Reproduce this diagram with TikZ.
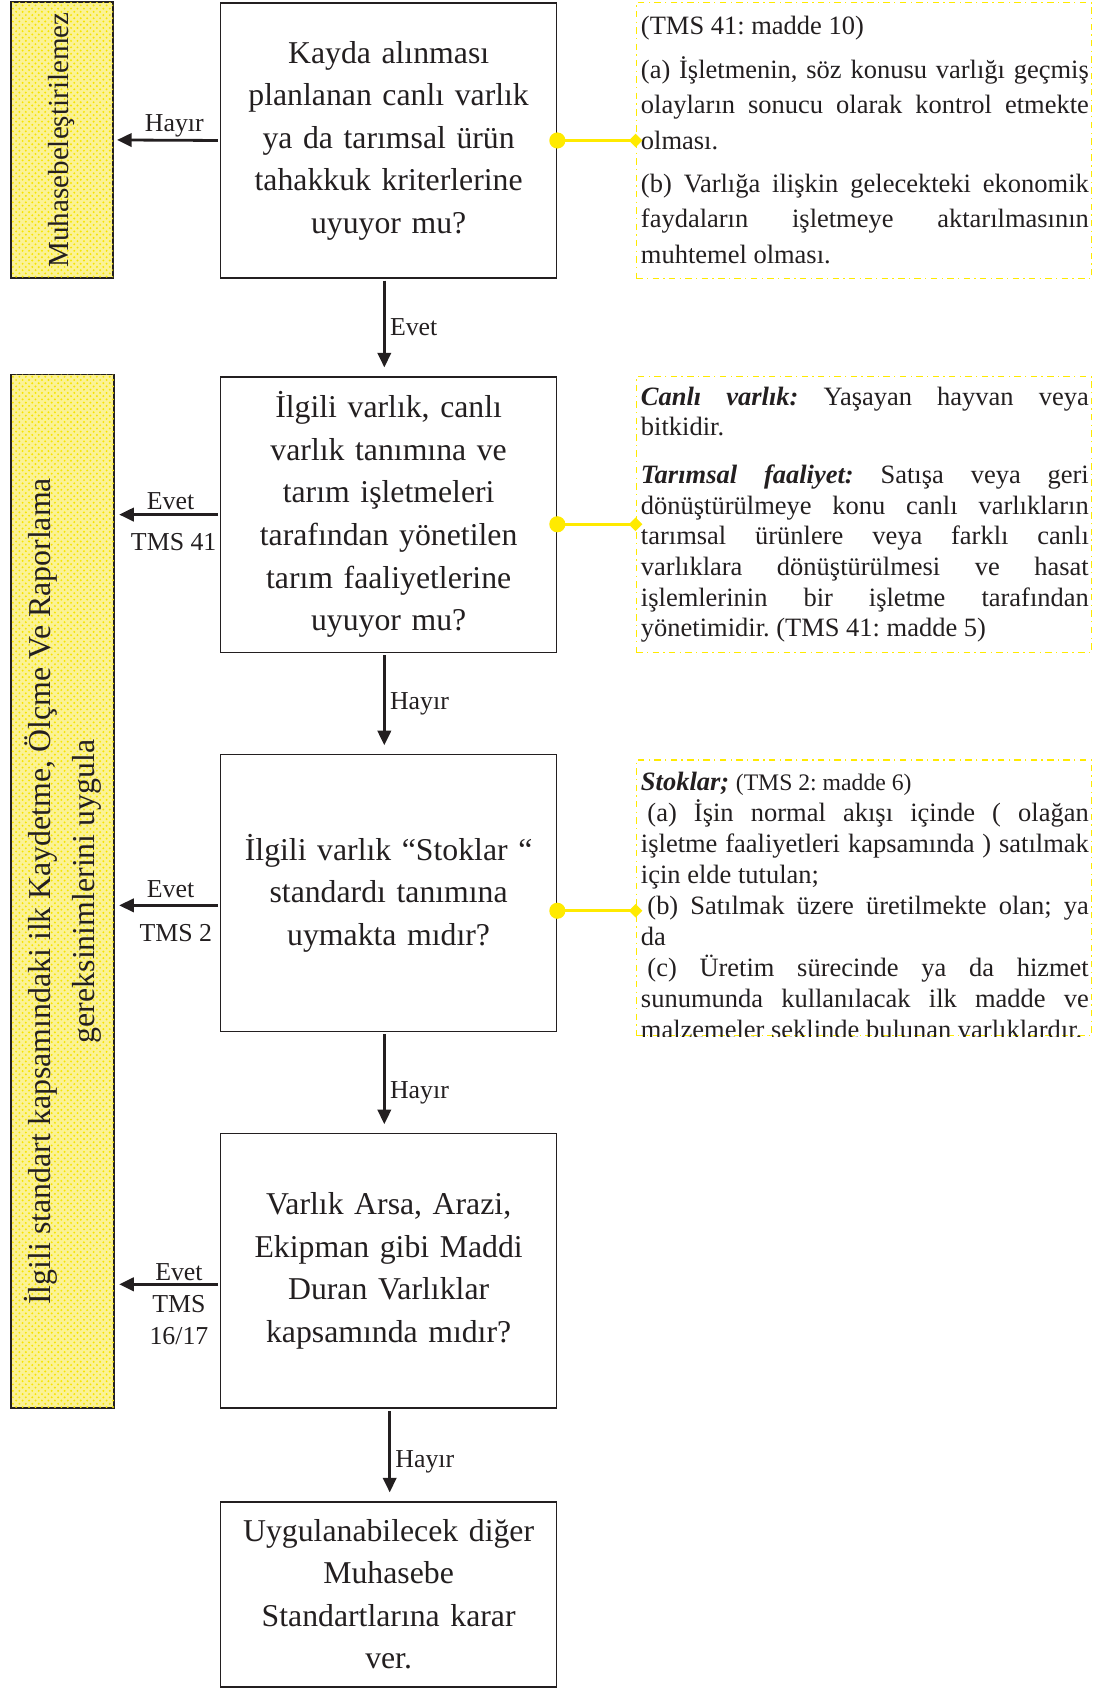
\documentclass[tikz,border=0pt]{standalone}
\usepackage{fontspec}
\setmainfont{Liberation Serif}
\usetikzlibrary{arrows.meta,shapes.geometric,patterns}

\begin{document}
\begin{tikzpicture}[x=0.5pt,y=-0.5pt,
    qbox/.style={draw=ink, line width=0.7pt, minimum width=156pt, text width=150pt, align=center,
      inner sep=0pt, text=ink, font=\fontsize{14.75}{19.75}\selectfont},
    sidebar/.style={draw=ink, line width=0.7pt, fill=paleyellow,
      postaction={pattern=crosshatch dots, pattern color=dotyellow}},
    sidetext/.style={rotate=90, align=center, text=ink, inner sep=0pt},
    flowdown/.style={draw=ink, line width=1.3pt, -{Triangle[length=6.8pt,width=6.2pt]},
      shorten <=1pt, shorten >=4pt},
    flowback/.style={flowdown, shorten >=1.5pt},
    lbl/.style={text=ink, inner sep=2pt, align=center, font=\fontsize{12}{14.5}\selectfont},
    note/.style={draw=hookyellow, line width=0.6pt, dash dot, minimum width=211.5pt,
      minimum height=128pt, inner sep=0pt},
    notetext/.style={anchor=north west, text width=208pt, align=justify, inner sep=0pt, text=ink},
    hook/.style={draw=hookyellow, line width=1.4pt},
    hookend/.style={diamond, fill=hookyellow, inner sep=0pt, minimum size=6.5pt}
  ]
  \definecolor{ink}{RGB}{35,31,32}
  \definecolor{hookyellow}{RGB}{255,234,0}
  \definecolor{paleyellow}{RGB}{251,242,150}
  \definecolor{dotyellow}{RGB}{246,228,0}

  \useasboundingbox (0,0) rectangle (1024,1568);

  % yellow side bars
  \node[sidebar, minimum width=47.5pt, minimum height=128pt] (lb1) at (57.5,130) {};
  \node[sidetext, font=\fontsize{13.5}{16}\selectfont] (lb1txt) at (lb1.center) {Muhasebeleştirilemez};
  \node[sidebar, minimum width=48pt, minimum height=480pt] (lb2) at (58,828) {};
  \node[sidetext, font=\fontsize{14.8}{20.5}\selectfont] (lb2txt) at (lb2.center)
    {İlgili standart kapsamındaki ilk Kaydetme, Ölçme Ve Raporlama\\gereksinimlerini uygula};

  % question boxes
  \node[qbox, minimum height=127.5pt] (b1) at (361,130.5)
    {Kayda alınması\\planlanan canlı varlık\\ya da tarımsal ürün\\tahakkuk kriterlerine\\uyuyor mu?};
  \node[qbox, minimum height=128pt] (b2) at (361,478)
    {İlgili varlık, canlı\\varlık tanımına ve\\tarım işletmeleri\\tarafından yönetilen\\tarım faaliyetlerine\\uyuyor mu?};
  \node[qbox, minimum height=128.5pt] (b3) at (361,829.5)
    {İlgili varlık “Stoklar “\\standardı tanımına\\uymakta mıdır?};
  \node[qbox, minimum height=127.5pt] (b4) at (361,1180.5)
    {Varlık Arsa, Arazi,\\Ekipman gibi Maddi\\Duran Varlıklar\\kapsamında mıdır?};
  \node[qbox, minimum height=86pt] (b5) at (361,1481)
    {Uygulanabilecek diğer\\Muhasebe\\Standartlarına karar\\ver.};

  % flow down
  \draw[flowdown] ([xshift=-2pt]b1.south) -- ([xshift=-2pt]b2.north) node[lbl, midway, right] (y1) {Evet};
  \draw[flowdown] ([xshift=-2pt]b2.south) -- ([xshift=-2pt]b3.north) node[lbl, midway, right] (y2) {Hayır};
  \draw[flowdown] ([xshift=-2pt]b3.south) -- ([xshift=-2pt]b4.north) node[lbl, pos=0.6, right] (y3) {Hayır};
  \draw[flowdown] ([xshift=0.5pt]b4.south) -- ([xshift=0.5pt]b5.north) node[lbl, pos=0.58, right] (y4) {Hayır};

  % back to the side bars
  \draw[flowback] (b1.west) -- (lb1.east) node[lbl, pos=0.43, above=-1pt] (x1) {Hayır};
  \draw[flowback, shorten >=2pt] (b2.west) -- (b2.west -| lb2.east)
    node[lbl, pos=0.47, above=-0.5pt] (x2a) {Evet} node[lbl, pos=0.44, below=6pt] (x2b) {TMS 41};
  \draw[flowback, shorten >=2pt] ([yshift=-5.75pt]b3.west) -- ([yshift=-5.75pt]b3.west -| lb2.east)
    node[lbl, pos=0.47, above=1pt] (x3a) {Evet} node[lbl, pos=0.42, below=6pt] (x3b) {TMS 2};
  \draw[flowback, shorten >=2pt] ([yshift=-6.25pt]b4.west) -- ([yshift=-6.25pt]b4.west -| lb2.east)
    node[lbl, pos=0.39, above=-1pt] (x4a) {Evet}
    node[lbl, pos=0.39, below=2.5pt, font=\fontsize{12}{15}\selectfont] (x4b) {TMS\\16/17};

  % notes on the right
  \node[note] (n1) at (802.5,130.5) {};
  \node[note] (n2) at (802.5,478) {};
  \node[note] (n3) at (802.5,834) {};

  \node[notetext, font=\fontsize{12.3}{16.5}\selectfont\frenchspacing] (t1) at (595,15)
    {(TMS 41: madde 10)\\[3.5pt]
     (a) İşletmenin, söz konusu varlığı geçmiş \linebreak olayların sonucu olarak kontrol etmekte
     \linebreak olması.\\[3.5pt]
     (b) Varlığa ilişkin gelecekteki ekonomik \linebreak faydaların işletmeye aktarılmasının
     \linebreak muhtemel olması.};
  \node[notetext, font=\fontsize{12.3}{14.25}\selectfont\frenchspacing] (t2) at (595,359)
    {\textbf{\textit{Canlı varlık:}} Yaşayan hayvan veya \linebreak bitkidir.\\[7.75pt]
     \textbf{\textit{Tarımsal faaliyet:}} Satışa veya geri \linebreak dönüştürülmeye konu canlı varlıkların
     \linebreak tarımsal ürünlere veya farklı canlı \linebreak varlıklara dönüştürülmesi ve hasat
     \linebreak işlemlerinin bir işletme tarafından \linebreak yönetimidir. (TMS 41: madde 5)};
  \begin{scope}
    \clip (n3.north west) rectangle (n3.south east);
    \node[notetext, font=\fontsize{12.3}{14.4}\selectfont\frenchspacing] (t3) at (595,717)
      {\textbf{\textit{Stoklar;}} {\fontsize{11}{14.4}\selectfont(TMS 2: madde 6)}\\
       \hspace*{3pt}(a) İşin normal akışı içinde ( olağan \linebreak işletme faaliyetleri kapsamında ) satılmak
       \linebreak için elde tutulan;\\
       \hspace*{3pt}(b) Satılmak üzere üretilmekte olan; ya \linebreak da\\
       \hspace*{3pt}(c) Üretim sürecinde ya da hizmet \linebreak sunumunda kullanılacak ilk madde ve
       \linebreak malzemeler şeklinde bulunan varlıklardır.};
  \end{scope}

  % yellow hooks from boxes to notes
  \foreach \i/\dy in {1/0,2/-4.5,3/-8.25} {
    \draw[hook] ([yshift=\dy pt]b\i.east) -- ([yshift=\dy pt]b\i.east -| n\i.west);
    \fill[hookyellow] ([yshift=\dy pt]b\i.east) circle (3.75pt);
    \node[hookend] (d\i) at ([yshift=\dy pt]b\i.east -| n\i.west) {};
  }
\end{tikzpicture}
\end{document}
